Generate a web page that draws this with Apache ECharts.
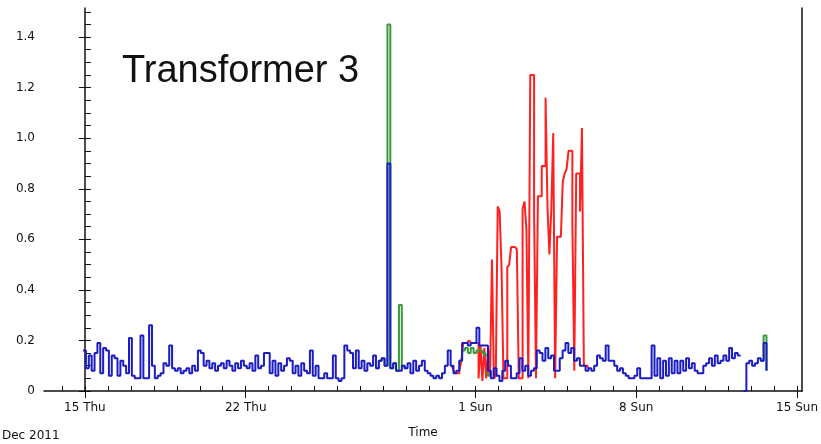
<!DOCTYPE html>
<html>
<head>
<meta charset="utf-8">
<script src="https://cdn.jsdelivr.net/npm/echarts@6/dist/echarts.min.js"></script>
<style>html,body{margin:0;padding:0;background:#fff;}#c{width:821px;height:444px;}</style>
</head>
<body>
<div id="c"></div>
<script>
// Time unit: days since 15 Dec 2011 00:00
var tickDays = [0, 7, 17, 24, 31];
var tickLabels = ['15 Thu', '22 Thu', '1 Sun', '8 Sun', '15 Sun'];
var yTicks = [0, 0.2, 0.4, 0.6, 0.8, 1.0, 1.2, 1.4];

// Blue phase: 3-hour readings starting 14 Dec ~22:00
var blueStart = -0.08;
var blueStepDays = 0.125;
var blueValues = [
  0.16,0.09,0.14,0.08,0.15,0.19,0.07,0.17,
  0.16,0.06,0.14,0.13,0.06,0.12,0.10,0.07,
  0.21,0.06,0.05,0.05,0.22,0.05,0.05,0.26,
  0.10,0.05,0.06,0.07,0.11,0.10,0.18,0.09,
  0.08,0.09,0.07,0.08,0.09,0.07,0.10,0.08,
  0.16,0.15,0.10,0.12,0.09,0.11,0.08,0.10,
  0.11,0.09,0.12,0.10,0.08,0.11,0.09,0.12,
  0.10,0.09,0.11,0.08,0.14,0.09,0.10,0.15,
  0.15,0.07,0.12,0.06,0.11,0.08,0.10,0.13,
  0.12,0.07,0.10,0.06,0.11,0.08,0.07,0.16,
  0.06,0.10,0.05,0.05,0.07,0.05,0.05,0.14,
  0.05,0.04,0.05,0.18,0.16,0.15,0.09,0.16,
  0.09,0.12,0.08,0.11,0.10,0.14,0.09,0.12,
  0.13,0.10,0.90,0.09,0.11,0.08,0.08,0.10,
  0.09,0.11,0.07,0.12,0.08,0.10,0.12,0.08,
  0.07,0.06,0.05,0.06,0.05,0.07,0.10,0.16,
  0.10,0.07,0.08,0.12,0.19,0.19,0.18,0.19,
  0.19,0.25,0.18,0.18,0.18,0.08,0.05,0.09,
  0.06,0.04,0.08,0.12,0.10,0.05,0.05,0.07,
  0.13,0.08,0.10,0.06,0.08,0.09,0.16,0.15,
  0.12,0.17,0.13,0.14,0.08,0.08,0.13,0.16,
  0.19,0.15,0.17,0.12,0.13,0.10,0.10,0.08,
  0.09,0.08,0.10,0.14,0.13,0.12,0.18,0.12,
  0.12,0.10,0.08,0.09,0.07,0.06,0.05,0.05,
  0.06,0.09,0.05,0.05,0.05,0.05,0.18,0.06,
  0.13,0.05,0.12,0.06,0.13,0.07,0.12,0.07,
  0.12,0.08,0.13,0.09,0.11,0.08,0.07,0.07,
  0.10,0.11,0.13,0.10,0.14,0.11,0.12,0.14,
  0.12,0.17,0.13,0.15,0.14,null,0,0.11,
  0.12,0.10,0.11,0.13,0.12,0.19,0.08
];

// Red phase: 2-hour readings, 31 Dec to 6 Jan
var redStart = 15.97;
var redStepDays = 1 / 12;
var redValues = [
  0.10,0.08,0.07,0.07,0.08,0.12,
  0.19,0.19,0.19,0.20,0.19,0.19,0.19,0.19,
  0.05,0.18,0.04,0.17,0.05,0.17,0.06,
  0.52,0.05,0.06,
  0.73,0.71,0.49,0.05,
  0.05,0.49,0.50,0.57,0.57,0.57,
  0.56,0.05,
  0.05,0.72,0.75,0.64,0.05,
  1.25,1.25,0.71,0.05,0.77,0.77,0.89,0.89,
  1.16,0.73,0.54,0.72,1.02,
  0.05,0.61,0.61,0.61,
  0.83,0.86,0.88,0.95,0.95,0.66,0.08,0.86,0.86,0.71,1.04,0.10,0.10,0.09
];

// Green phase: 3-hour readings, three visible stretches
var greenStepDays = 0.125;
var greenStartA = 12.67;
var greenValuesA = [0.09,0.12,0.13,0.10,1.45,0.09,0.11,0.08,0.34,0.10,0.09];
var greenStartB = 16.295;
var greenValuesB = [0.12,0.16,0.17,0.15,0.17,0.15,0.16,0.16,0.15,0.14,0.06];
var greenStartC = 29.42;
var greenValuesC = [0.12,0.22,0.08];

function toPairs(start, step, vals) {
  return vals.map(function (v, i) { return [start + i * step, v]; });
}
var greenData = toPairs(greenStartA, greenStepDays, greenValuesA)
  .concat([[greenStartA + greenValuesA.length * greenStepDays, null]])
  .concat(toPairs(greenStartB, greenStepDays, greenValuesB))
  .concat([[greenStartB + greenValuesB.length * greenStepDays, null]])
  .concat(toPairs(greenStartC, greenStepDays, greenValuesC));

var dayTicks = [];
for (var d = -1; d <= 31; d++) dayTicks.push(d);
var minorY = [];
for (var k = 0; k <= 30; k++) minorY.push(+(k * 0.05).toFixed(2));

var FONT = 'DejaVu Sans';
var xMin = -1.78, xMax = 31.22;
var yMax = 1.515;

var chart = echarts.init(document.getElementById('c'), null, {renderer: 'canvas'});
chart.setOption({
  animation: false,
  backgroundColor: '#fff',
  title: {
    text: 'Transformer 3', left: 117, top: 48,
    textStyle: {fontFamily: 'Liberation Sans', fontSize: 38, fontWeight: 'normal', color: '#111'}
  },
  graphic: [{
    type: 'text', left: 2, top: 430,
    style: {text: 'Dec 2011', font: '12px "DejaVu Sans"', fill: '#111'}
  }],
  grid: {left: 44, right: 16, top: 8, bottom: 50},
  xAxis: [{
    type: 'value', min: xMin, max: xMax, position: 'bottom',
    name: 'Time', nameLocation: 'middle', nameGap: 36,
    nameTextStyle: {fontFamily: FONT, fontSize: 12, color: '#111'},
    axisLine: {show: true, lineStyle: {color: '#111', width: 1.5}},
    axisTick: {show: true, customValues: tickDays, length: 7, lineStyle: {color: '#111'}},
    axisLabel: {
      customValues: tickDays, margin: 11, fontFamily: FONT, fontSize: 12, color: '#111',
      formatter: function (v) { var i = tickDays.indexOf(v); return i >= 0 ? tickLabels[i] : ''; }
    },
    splitLine: {show: false}
  }, {
    type: 'value', min: xMin, max: xMax, position: 'bottom', offset: 0,
    axisLine: {show: false},
    axisTick: {show: true, inside: true, customValues: dayTicks, length: 5, lineStyle: {color: '#111'}},
    axisLabel: {show: false}, splitLine: {show: false}
  }],
  yAxis: [{
    type: 'value', min: 0, max: yMax, position: 'left',
    axisLine: {show: true, lineStyle: {color: '#111', width: 1.5}},
    axisTick: {show: true, customValues: yTicks, length: 6, lineStyle: {color: '#111'}},
    axisLabel: {
      customValues: yTicks, margin: 9, fontFamily: FONT, fontSize: 12, color: '#111',
      formatter: function (v) { return v === 0 ? '0' : v.toFixed(1); }
    },
    splitLine: {show: false}
  }, {
    type: 'value', min: 0, max: yMax, position: 'left', offset: 0,
    axisLine: {show: false},
    axisTick: {show: true, inside: true, customValues: minorY, length: 6, lineStyle: {color: '#111'}},
    axisLabel: {show: false}, splitLine: {show: false}
  }, {
    type: 'value', min: 0, max: yMax, position: 'right', offset: 0,
    axisLine: {show: true, lineStyle: {color: '#111', width: 1.5}},
    axisTick: {show: false}, axisLabel: {show: false}, splitLine: {show: false}
  }],
  series: [{
    type: 'line', name: 'red', step: 'end', showSymbol: false, z: 2,
    data: toPairs(redStart, redStepDays, redValues),
    lineStyle: {color: '#ff2020', width: 2}, itemStyle: {color: '#ff2020'}
  }, {
    type: 'line', name: 'green', step: 'end', showSymbol: false, z: 3,
    data: greenData, connectNulls: false,
    lineStyle: {color: '#3a9a3a', width: 2}, itemStyle: {color: '#3a9a3a'}
  }, {
    type: 'line', name: 'blue', step: 'end', showSymbol: false, z: 4,
    data: toPairs(blueStart, blueStepDays, blueValues), connectNulls: false,
    lineStyle: {color: '#1c1cc4', width: 2}, itemStyle: {color: '#1c1cc4'}
  }]
});
</script>
</body>
</html>
